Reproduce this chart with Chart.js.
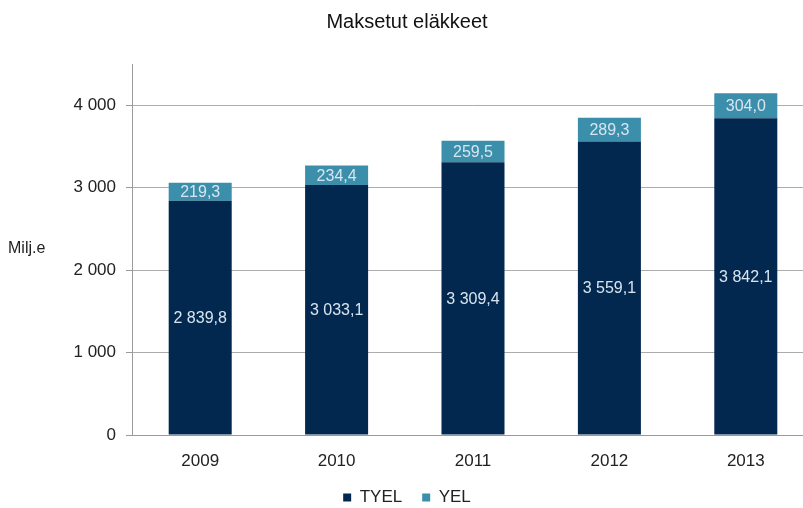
<!DOCTYPE html>
<html>
<head>
<meta charset="utf-8">
<script src="https://cdn.jsdelivr.net/npm/chart.js@4.4.0/dist/chart.umd.min.js"></script>
<style>
html,body{margin:0;padding:0;background:#fff;overflow:hidden;width:803px;height:508px;}
#wrap{width:820px;height:508px;}
</style>
</head>
<body>
<div id="wrap"><canvas id="c" width="820" height="508"></canvas></div>
<script>
const years = ['2009', '2010', '2011', '2012', '2013'];
const tyel = [2839.8, 3033.1, 3309.4, 3559.1, 3842.1];
const yel = [219.3, 234.4, 259.5, 289.3, 304.0];
const seriesNames = ['TYEL', 'YEL'];
const yTicks = [0, 1000, 2000, 3000, 4000];
const yLabel = 'Milj.e';
const chartTitle = 'Maksetut eläkkeet';

const fmt = v => {
  const parts = v.toFixed(1).split('.');
  const int = parts[0].replace(/\B(?=(\d{3})+(?!\d))/g, ' ');
  return int + ',' + parts[1];
};
const fmtTick = v => String(v).replace(/\B(?=(\d{3})+(?!\d))/g, ' ');

const labelPlugin = {
  id: 'barLabels',
  afterDatasetsDraw(chart) {
    const ctx = chart.ctx;
    ctx.save();
    ctx.font = '16px "Liberation Sans", Arial, sans-serif';
    ctx.fillStyle = '#d8e5f0';
    ctx.textAlign = 'center';
    ctx.textBaseline = 'middle';
    chart.data.datasets.forEach((ds, di) => {
      const meta = chart.getDatasetMeta(di);
      meta.data.forEach((bar, i) => {
        const p = bar.getProps(['x', 'y', 'base'], true);
        ctx.fillText(fmt(ds.data[i]), p.x, (p.y + p.base) / 2 + 1);
      });
    });
    // y axis label, horizontal
    ctx.font = '16px "Liberation Sans", Arial, sans-serif';
    ctx.fillStyle = '#222';
    ctx.textAlign = 'left';
    const ca = chart.chartArea;
    ctx.fillText(yLabel, 8, (ca.top + ca.bottom) / 2 - 1);
    ctx.restore();
  }
};

new Chart(document.getElementById('c'), {
  type: 'bar',
  data: {
    labels: years,
    datasets: [
      { label: seriesNames[0], data: tyel, backgroundColor: '#03284f', borderWidth: 0 },
      { label: seriesNames[1], data: yel, backgroundColor: '#3b8fab', borderWidth: 0 }
    ]
  },
  options: {
    responsive: false,
    animation: false,
    devicePixelRatio: 1,
    layout: { padding: { left: 0, right: 6, top: 0, bottom: -8 } },
    datasets: { bar: { categoryPercentage: 1, barPercentage: 0.462 } },
    scales: {
      x: {
        stacked: true,
        grid: { display: false },
        border: { display: true, color: '#9a9a9a', width: 1 },
        afterFit(scale) { scale.height = 34; },
        ticks: { color: '#222', font: { size: 17, family: '"Liberation Sans", Arial, sans-serif' }, padding: 8 }
      },
      y: {
        stacked: true,
        min: 0,
        max: 4500,
        afterBuildTicks(scale) { scale.ticks = yTicks.map(v => ({ value: v })); },
        afterFit(scale) { scale.width = 132; },
        grid: { color: '#acacac', tickLength: 6, tickColor: '#9a9a9a' },
        border: { display: true, color: '#9a9a9a', width: 1 },
        ticks: {
          color: '#222',
          padding: 10,
          font: { size: 17, family: '"Liberation Sans", Arial, sans-serif' },
          callback: v => fmtTick(v)
        }
      }
    },
    plugins: {
      title: {
        display: true,
        text: chartTitle,
        color: '#111',
        font: { size: 20, weight: 'normal', family: '"Liberation Sans", Arial, sans-serif' },
        padding: { top: 10, bottom: 30 }
      },
      legend: {
        position: 'bottom',
        labels: {
          color: '#222',
          boxWidth: 8,
          boxHeight: 8,
          padding: 20,
          font: { size: 17, family: '"Liberation Sans", Arial, sans-serif' }
        }
      },
      tooltip: { enabled: false }
    }
  },
  plugins: [labelPlugin]
});
</script>
</body>
</html>
